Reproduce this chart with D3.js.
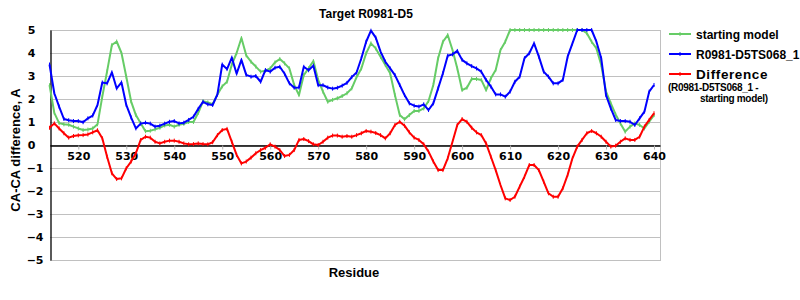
<!DOCTYPE html>
<html>
<head>
<meta charset="utf-8">
<script src="https://cdn.jsdelivr.net/npm/d3@7"></script>
<style>
  body { margin: 0; background: #ffffff; }
</style>
</head>
<body>
<script>
// residue numbers 514..640
var residues = d3.range(514, 641);

var startingModel = [
  2.6, 1.4, 0.95, 0.9, 0.88, 0.8, 0.72, 0.65, 0.67, 0.72,
  0.9, 2.1, 3.2, 4.35, 4.5, 4.0, 2.97, 1.9, 1.3, 0.95,
  0.6, 0.62, 0.68, 0.75, 0.85, 0.88, 0.8, 0.88, 0.92, 1.0,
  1.0, 1.4, 1.9, 1.85, 1.77, 2.2, 2.55, 2.75, 3.5, 4.0,
  4.65, 3.9, 3.62, 3.41, 3.19, 3.23, 3.33, 3.59, 3.74, 3.55,
  3.33, 2.61, 2.17, 3.04, 3.33, 3.65, 2.83, 2.32, 1.88, 1.96,
  2.03, 2.13, 2.25, 2.46, 2.95, 3.33, 3.99, 4.42, 4.2, 3.84,
  3.48, 3.12, 2.17, 1.3, 1.12, 1.3, 1.48, 1.48, 1.59, 1.91,
  2.61, 3.77, 4.49, 4.78, 4.13, 3.33, 2.39, 2.49, 2.87, 2.87,
  2.83, 2.39, 2.9, 3.26, 4.13, 4.49, 5.0, 5.0, 5.2, 5.15,
  5.1, 5.3, 5.1, 5.1, 5.1, 5.1, 5.1, 5.0, 5.15, 5.0,
  5.05, 5.0, 4.86, 4.49, 4.2, 3.48, 2.32, 1.81, 1.33, 0.94,
  0.58, 0.8, 0.94, 0.87, 0.72, 1.01, 1.3
];

var model068 = [
  3.5, 2.25, 1.67, 1.13, 1.08, 1.04, 1.04, 0.99, 1.16, 1.28,
  1.74, 2.72, 2.68, 3.16, 2.46, 2.72, 1.74, 1.2, 0.72, 0.93,
  0.97, 0.93, 0.8, 0.84, 0.93, 1.01, 1.04, 0.94, 0.97, 1.09,
  1.23, 1.57, 1.88, 1.77, 1.74, 2.2, 3.5, 3.3, 3.8, 3.1,
  3.7, 3.05, 2.97, 3.0, 2.75, 3.26, 3.19, 3.36, 3.4, 3.1,
  2.68, 2.49, 2.5, 3.4, 3.25, 3.45, 2.6, 2.6, 2.5, 2.45,
  2.49, 2.58, 2.7, 2.95, 3.15, 3.77, 4.49, 4.97, 4.67, 4.06,
  3.62, 3.33, 3.04, 2.61, 2.17, 1.81, 1.71, 1.67, 1.77, 1.52,
  1.81, 2.46, 3.12, 3.88, 3.94, 4.09, 3.7, 3.55, 3.43, 3.33,
  3.19, 2.83, 2.54, 2.2, 2.2, 2.1, 2.32, 2.75, 2.97, 3.77,
  3.99, 4.42, 3.84, 3.19, 2.97, 2.68, 2.68, 2.83, 3.84, 4.42,
  5.05, 5.2, 5.35, 5.1, 4.49, 3.77, 2.17, 1.59, 1.09, 1.04,
  1.04, 1.01, 0.87, 1.16, 1.45, 2.32, 2.61
];

var difference = [
  0.75, 0.94, 0.72, 0.51, 0.32, 0.39, 0.42, 0.43, 0.46, 0.55,
  0.64, 0.29, -0.51, -1.23, -1.48, -1.45, -1.01, -0.72, -0.36, 0.22,
  0.36, 0.32, 0.14, 0.07, 0.14, 0.19, 0.19, 0.14, 0.07, 0.03,
  0.04, 0.07, 0.04, 0.03, 0.12, 0.43, 0.65, 0.7, 0.14, -0.43,
  -0.8, -0.72, -0.55, -0.36, -0.22, -0.12, 0.03, -0.07, -0.22, -0.48,
  -0.43, -0.22, 0.22, 0.26, 0.17, 0.03, 0.0, 0.14, 0.32, 0.41,
  0.41, 0.36, 0.39, 0.36, 0.43, 0.51, 0.61, 0.58, 0.52, 0.43,
  0.29, 0.51, 0.87, 1.01, 0.84, 0.55, 0.32, 0.22, 0.03, -0.29,
  -0.72, -1.09, -1.09, -0.58, 0.14, 0.87, 1.13, 1.01, 0.75, 0.55,
  0.43, 0.07, -0.51, -1.09, -1.74, -2.32, -2.39, -2.25, -1.81, -1.38,
  -0.87, -0.87, -1.09, -1.59, -2.1, -2.25, -2.25, -1.88, -1.3, -0.58,
  -0.07, 0.22, 0.51, 0.61, 0.51, 0.36, 0.14, -0.07, -0.03, 0.14,
  0.29, 0.22, 0.22, 0.36, 0.8, 1.09, 1.38
];

var xTicks = [520, 530, 540, 550, 560, 570, 580, 590, 600, 610, 620, 630, 640];
var yTicks = [-5, -4, -3, -2, -1, 0, 1, 2, 3, 4, 5];

var seriesNames = ["starting model", "R0981-D5TS068_1", "Difference"];
var seriesColors = ["#66cc66", "#0000ff", "#ff0000"];

var svgContainer = d3
  .select("body")
  .append("svg")
  .attr("width", 800)
  .attr("height", 300)
  .style("display", "block");

var x = d3.scaleLinear().domain([514.1, 641.25]).range([50, 660]);
var y = d3.scaleLinear().domain([-5, 5]).range([260, 30]).clamp(true);

// horizontal gridlines
svgContainer
  .append("g")
  .selectAll("line")
  .data(yTicks)
  .enter()
  .append("line")
  .attr("x1", 50)
  .attr("x2", 660)
  .attr("y1", function (d) { return y(d) + 0.5; })
  .attr("y2", function (d) { return y(d) + 0.5; })
  .attr("stroke", "#c0c0c0")
  .attr("stroke-width", 1);

// right border of plot area
svgContainer
  .append("line")
  .attr("x1", 660.5)
  .attr("x2", 660.5)
  .attr("y1", y(5))
  .attr("y2", y(-5) + 1)
  .attr("stroke", "#c0c0c0");

// x axis sits on zero
var xAxis = svgContainer
  .append("g")
  .attr("transform", "translate(0," + (y(0) + 0.5) + ")")
  .call(d3.axisBottom(x).tickValues(xTicks).tickSize(4).tickSizeOuter(0).tickPadding(3).tickFormat(d3.format("d")));
xAxis.select(".domain").attr("stroke", "#000").attr("stroke-width", 1.3);
xAxis.selectAll(".tick line").attr("stroke", "#b0b0b0");
xAxis
  .selectAll(".tick text")
  .attr("fill", "#000")
  .style("font-family", "DejaVu Sans, Verdana, sans-serif")
  .style("font-weight", "bold")
  .style("font-size", "11px");

// y axis
var yAxis = svgContainer
  .append("g")
  .attr("transform", "translate(50.5,0)")
  .call(d3.axisLeft(y).tickValues(yTicks).tickSize(0).tickSizeOuter(0).tickFormat(d3.format("d")));
yAxis.select(".domain").attr("stroke", "#000").attr("stroke-width", 1.3);
yAxis
  .selectAll(".tick text")
  .attr("x", function (d) { return d < 0 ? -7 : -15; })
  .attr("fill", "#000")
  .style("font-family", "DejaVu Sans, Verdana, sans-serif")
  .style("font-weight", "bold")
  .style("font-size", "11px");

// lines
var allSeries = [startingModel, model068, difference];
allSeries.forEach(function (values, k) {
  var pts = residues.map(function (r, i) { return [r, values[i]]; });
  var line = d3
    .line()
    .x(function (d) { return x(d[0]); })
    .y(function (d) { return y(d[1]); });
  svgContainer
    .append("path")
    .datum(pts)
    .attr("d", line)
    .attr("fill", "none")
    .attr("stroke", seriesColors[k])
    .attr("stroke-width", 2)
    .attr("stroke-linejoin", "round");
  // small dash markers on each point
  svgContainer
    .append("g")
    .selectAll("line")
    .data(pts)
    .enter()
    .append("line")
    .attr("x1", function (d) { return x(d[0]); })
    .attr("x2", function (d) { return x(d[0]); })
    .attr("y1", function (d) { return y(d[1]) - 2; })
    .attr("y2", function (d) { return y(d[1]) + 2; })
    .attr("stroke", seriesColors[k])
    .attr("stroke-width", 1);
});

// title
svgContainer
  .append("text")
  .attr("x", 366)
  .attr("y", 18)
  .attr("text-anchor", "middle")
  .style("font-family", "Liberation Sans, Arial, sans-serif")
  .style("font-weight", "bold")
  .style("font-size", "12px")
  .text("Target R0981-D5");

// axis titles
svgContainer
  .append("text")
  .attr("transform", "translate(20,150) rotate(-90)")
  .attr("text-anchor", "middle")
  .style("font-family", "Liberation Sans, Arial, sans-serif")
  .style("font-weight", "bold")
  .style("font-size", "13px")
  .text("CA-CA difference, A");

svgContainer
  .append("text")
  .attr("x", 354)
  .attr("y", 277)
  .attr("text-anchor", "middle")
  .style("font-family", "Liberation Sans, Arial, sans-serif")
  .style("font-weight", "bold")
  .style("font-size", "13px")
  .text("Residue");

// legend
var legendY = [34, 54, 74];
var legend = svgContainer.append("g");
legend
  .selectAll("line.sample")
  .data(seriesNames)
  .enter()
  .append("line")
  .attr("class", "sample")
  .attr("x1", 669)
  .attr("x2", 691)
  .attr("y1", function (d, i) { return legendY[i]; })
  .attr("y2", function (d, i) { return legendY[i]; })
  .attr("stroke", function (d, i) { return seriesColors[i]; })
  .attr("stroke-width", 2);
legend
  .selectAll("line.mark")
  .data(seriesNames)
  .enter()
  .append("line")
  .attr("class", "mark")
  .attr("x1", 680)
  .attr("x2", 680)
  .attr("y1", function (d, i) { return legendY[i] - 2; })
  .attr("y2", function (d, i) { return legendY[i] + 2; })
  .attr("stroke", function (d, i) { return seriesColors[i]; })
  .attr("stroke-width", 1);
legend
  .selectAll("text.name")
  .data(seriesNames)
  .enter()
  .append("text")
  .attr("class", "name")
  .attr("x", 696)
  .attr("y", function (d, i) { return legendY[i] + (i == 2 ? 4.5 : 4.5); })
  .style("font-family", "Liberation Sans, Arial, sans-serif")
  .style("font-weight", "bold")
  .style("font-size", function (d, i) { return i == 2 ? "13.5px" : "12px"; })
  .style("letter-spacing", function (d, i) { return i == 2 ? "0.6px" : "0px"; })
  .text(function (d) { return d; });

legend
  .append("text")
  .attr("x", 668)
  .attr("y", 91)
  .style("font-family", "Liberation Sans, Arial, sans-serif")
  .style("font-weight", "bold")
  .style("font-size", "10px")
  .style("letter-spacing", "-0.3px")
  .text("(R0981-D5TS068_1 -");
legend
  .append("text")
  .attr("x", 700)
  .attr("y", 102)
  .style("font-family", "Liberation Sans, Arial, sans-serif")
  .style("font-weight", "bold")
  .style("font-size", "10px")
  .style("letter-spacing", "-0.3px")
  .text("starting model)");
</script>
</body>
</html>
